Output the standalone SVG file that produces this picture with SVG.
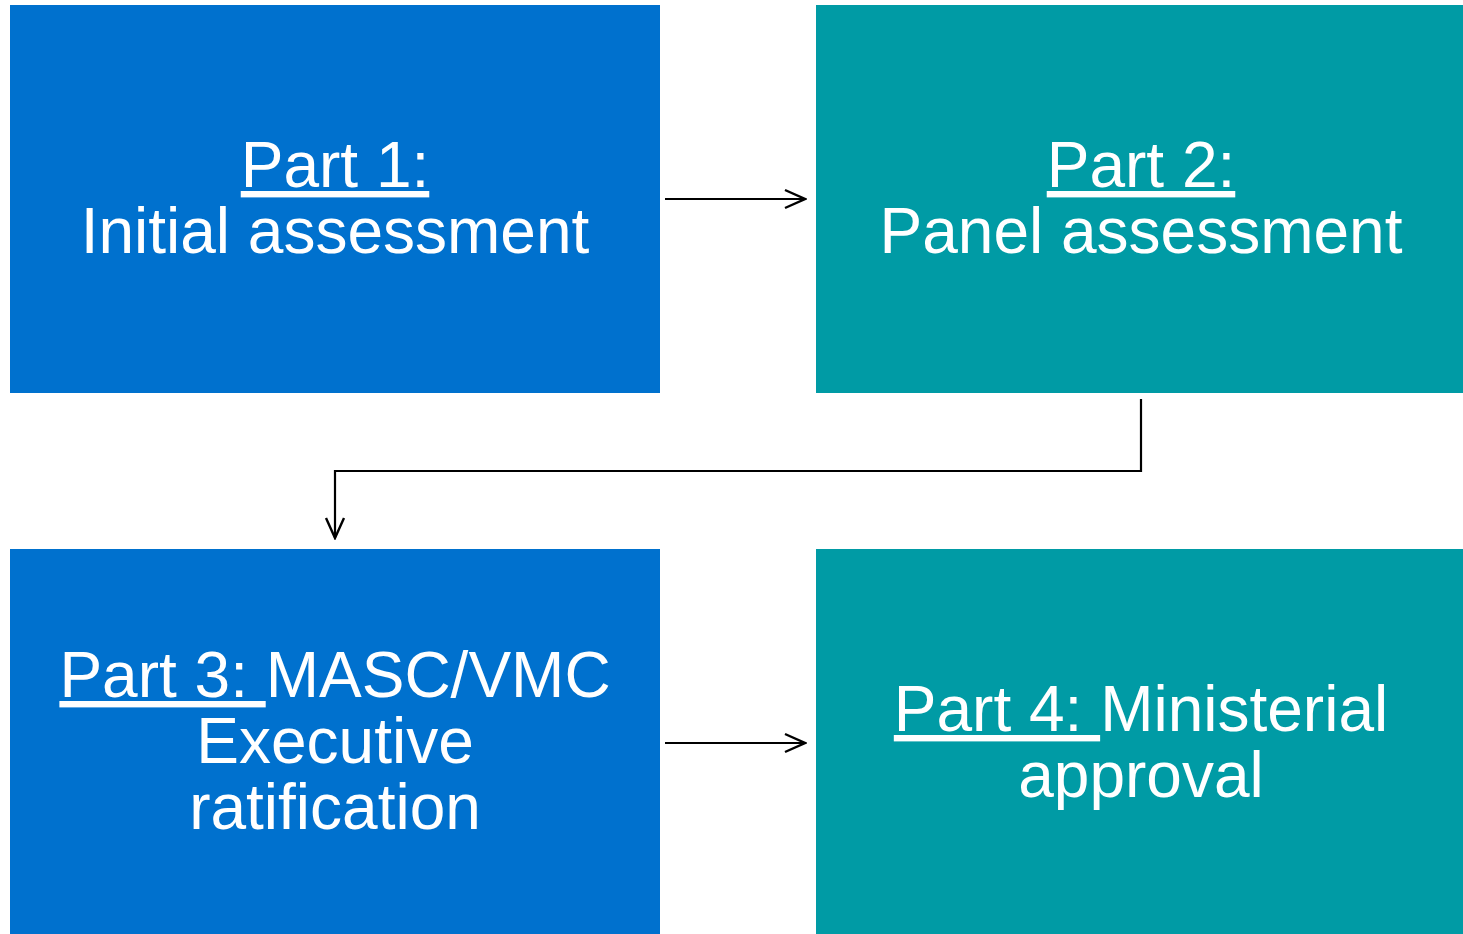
<svg xmlns="http://www.w3.org/2000/svg" width="1463" height="934" viewBox="0 0 1463 934">
  <style>
    .blue { fill: #0071CE; }
    .teal { fill: #009BA5; }
    .label { font-family: "Liberation Sans", Arial, sans-serif; font-size: 64px; fill: #FFFFFF; text-anchor: middle; }
    .u { text-decoration: underline; }
    .conn { fill: none; stroke: #000000; stroke-width: 2.2; }
  </style>
  <defs>
    <marker id="arrow" viewBox="0 0 12 12" refX="11" refY="6" markerWidth="12" markerHeight="12" markerUnits="userSpaceOnUse" orient="auto">
      <path d="M1,1 L11,6 L1,11" fill="none" stroke="#000000" stroke-width="1.2"/>
    </marker>
    <marker id="arrowL" viewBox="0 0 24 24" refX="22" refY="12" markerWidth="24" markerHeight="24" markerUnits="userSpaceOnUse" orient="auto">
      <path d="M2,3 L22,12 L2,21" fill="none" stroke="#000000" stroke-width="2.4"/>
    </marker>
  </defs>

  <g id="part1">
    <rect class="blue" x="10" y="5" width="650" height="388"/>
    <text class="label" x="335" y="187"><tspan class="u">Part 1:</tspan></text>
    <text class="label" x="335" y="253">Initial assessment</text>
  </g>

  <g id="part2">
    <rect class="teal" x="816" y="5" width="647" height="388"/>
    <text class="label" x="1141" y="187"><tspan class="u">Part 2:</tspan></text>
    <text class="label" x="1141" y="253">Panel assessment</text>
  </g>

  <g id="part3">
    <rect class="blue" x="10" y="549" width="650" height="385"/>
    <text class="label" x="335" y="697"><tspan class="u">Part 3: </tspan>MASC/VMC</text>
    <text class="label" x="335" y="763">Executive</text>
    <text class="label" x="335" y="829">ratification</text>
  </g>

  <g id="part4">
    <rect class="teal" x="816" y="549" width="647" height="385"/>
    <text class="label" x="1141" y="731"><tspan class="u">Part 4: </tspan>Ministerial</text>
    <text class="label" x="1141" y="797">approval</text>
  </g>

  <g id="connectors">
    <path class="conn" d="M665,199 H805" marker-end="url(#arrowL)"/>
    <path class="conn" d="M1141,399 V471 H335 V538" marker-end="url(#arrowL)"/>
    <path class="conn" d="M665,743 H805" marker-end="url(#arrowL)"/>
  </g>
</svg>
